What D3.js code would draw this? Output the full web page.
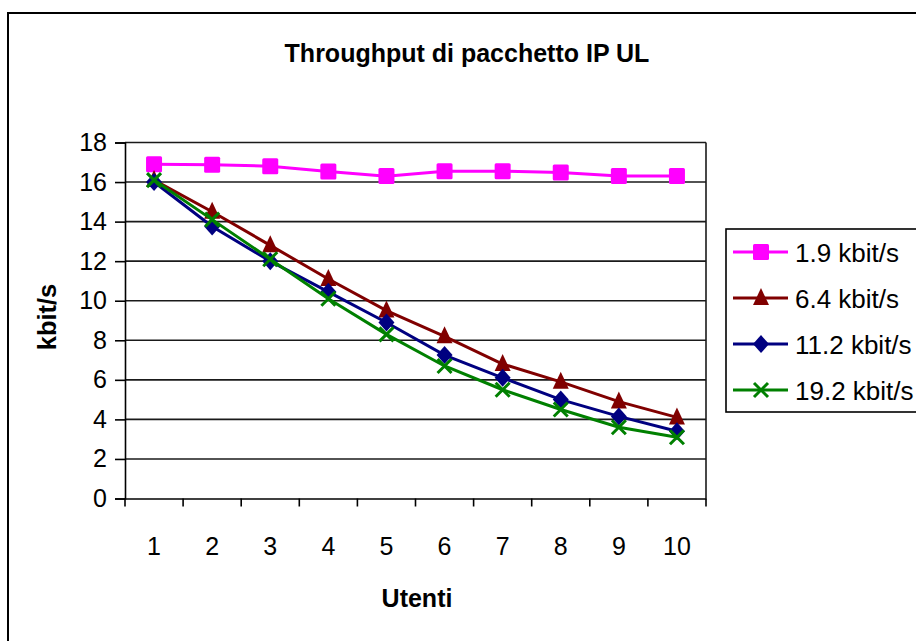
<!DOCTYPE html>
<html><head><meta charset="utf-8">
<script src="https://cdn.jsdelivr.net/npm/d3@7"></script>
<style>body{margin:0;background:#fff}svg{display:block;font-family:"Liberation Sans",Arial,sans-serif}</style>
</head><body><svg id="c" width="916" height="641"></svg>
<script>
const categories = ["1","2","3","4","5","6","7","8","9","10"];
const yTicks = [0,2,4,6,8,10,12,14,16,18];
const seriesNames = ["1.9 kbit/s","6.4 kbit/s","11.2 kbit/s","19.2 kbit/s"];
const s19 = [16.9,16.88,16.8,16.53,16.3,16.55,16.55,16.48,16.3,16.3];
const s64 = [16.1,14.5,12.8,11.1,9.5,8.2,6.8,5.9,4.9,4.1];
const s112 = [16.0,13.75,12.0,10.45,8.9,7.25,6.1,5.0,4.15,3.4];
const s192 = [16.1,14.1,12.1,10.1,8.3,6.7,5.5,4.5,3.6,3.1];
const colors = ["#FF00FF","#800000","#000080","#008000"];
const markers = ["square","triangle","diamond","cross"];
const title = "Throughput di pacchetto IP UL";
const xTitle = "Utenti";
const yTitle = "kbit/s";

const svg = d3.select("#c");
const L = 125, R = 706, T = 142.5, B = 498.5;
const x = d3.scaleBand().domain(categories).range([L, R]);
const y = d3.scaleLinear().domain([0, 18]).range([B, T]);

// outer border
svg.append("rect").attr("x",8).attr("y",13).attr("width",940).attr("height",660)
  .attr("fill","none").attr("stroke","#000").attr("stroke-width",2);

// title
svg.append("text").attr("x",467).attr("y",62).attr("text-anchor","middle")
  .attr("font-size",25).attr("font-weight","bold").text(title);

// gridlines
svg.append("g").selectAll("line").data(yTicks.filter(d=>d>0)).join("line")
  .attr("x1",L).attr("x2",R).attr("y1",d=>y(d)).attr("y2",d=>y(d))
  .attr("stroke","#1a1a1a").attr("stroke-width",1.6);
// right border
svg.append("line").attr("x1",R).attr("x2",R).attr("y1",T).attr("y2",B).attr("stroke","#1a1a1a").attr("stroke-width",1.6);

// y axis
const ya = svg.append("g").attr("transform",`translate(${L},0)`)
  .call(d3.axisLeft(y).tickValues(yTicks).tickSize(10).tickPadding(8));
ya.selectAll("text").attr("font-size",25).attr("fill","#000").attr("font-family","Liberation Sans, Arial, sans-serif");
ya.selectAll("line,path").attr("stroke","#000").attr("stroke-width",1.6);

// x axis
const xa = svg.append("g").attr("transform",`translate(0,${B})`)
  .call(d3.axisBottom(x).tickSize(0).tickPadding(0));
xa.select(".domain").attr("stroke","#000").attr("stroke-width",1.6);
xa.selectAll(".tick line").remove();
xa.selectAll("text").attr("font-size",25).attr("fill","#000").attr("dy",0).attr("y",56)
  .attr("font-family","Liberation Sans, Arial, sans-serif");
// category boundary ticks
const bounds = categories.map(c => x(c)).concat([R]);
svg.append("g").selectAll("line").data(bounds).join("line")
  .attr("x1",d=>d).attr("x2",d=>d).attr("y1",B).attr("y2",B+8)
  .attr("stroke","#000").attr("stroke-width",1.6);

// axis titles
svg.append("text").attr("x",417).attr("y",607).attr("text-anchor","middle")
  .attr("font-size",25).attr("font-weight","bold").text(xTitle);
svg.append("text").attr("transform","translate(56,317) rotate(-90)").attr("text-anchor","middle")
  .attr("font-size",25.5).attr("font-weight","bold").text(yTitle);

function drawMarker(g, type, cx, cy, color) {
  if (type === "square") {
    g.append("rect").attr("x",cx-8).attr("y",cy-8).attr("width",16).attr("height",16).attr("rx",1.5).attr("fill",color);
  } else if (type === "triangle") {
    g.append("path").attr("d",`M${cx},${cy-10}L${cx+8},${cy+7}L${cx-8},${cy+7}Z`).attr("fill",color);
  } else if (type === "diamond") {
    g.append("path").attr("d",`M${cx},${cy-9}L${cx+8},${cy}L${cx},${cy+9}L${cx-8},${cy}Z`).attr("fill",color);
  } else {
    g.append("path").attr("d",`M${cx-7},${cy-7}L${cx+7},${cy+7}M${cx+7},${cy-7}L${cx-7},${cy+7}`)
      .attr("stroke",color).attr("stroke-width",3).attr("fill","none");
  }
}

const allSeries = [s19, s64, s112, s192];
const line = d3.line().x((d,i)=>x(categories[i])+x.bandwidth()/2).y(d=>y(d));
allSeries.forEach((s, k) => {
  const g = svg.append("g");
  g.append("path").attr("d", line(s)).attr("fill","none").attr("stroke",colors[k]).attr("stroke-width",3);
  s.forEach((v,i) => drawMarker(g, markers[k], x(categories[i])+x.bandwidth()/2, y(v), colors[k]));
});

// legend
svg.append("rect").attr("x",726).attr("y",229).attr("width",300).attr("height",183)
  .attr("fill","#fff").attr("stroke","#000").attr("stroke-width",1.6);
seriesNames.forEach((n,k) => {
  const cy = 252 + k*46;
  const g = svg.append("g");
  g.append("line").attr("x1",733).attr("x2",788).attr("y1",cy).attr("y2",cy).attr("stroke",colors[k]).attr("stroke-width",3);
  drawMarker(g, markers[k], 761, cy, colors[k]);
  g.append("text").attr("x",795).attr("y",cy+10).attr("font-size",26).text(n);
});
</script></body></html>
